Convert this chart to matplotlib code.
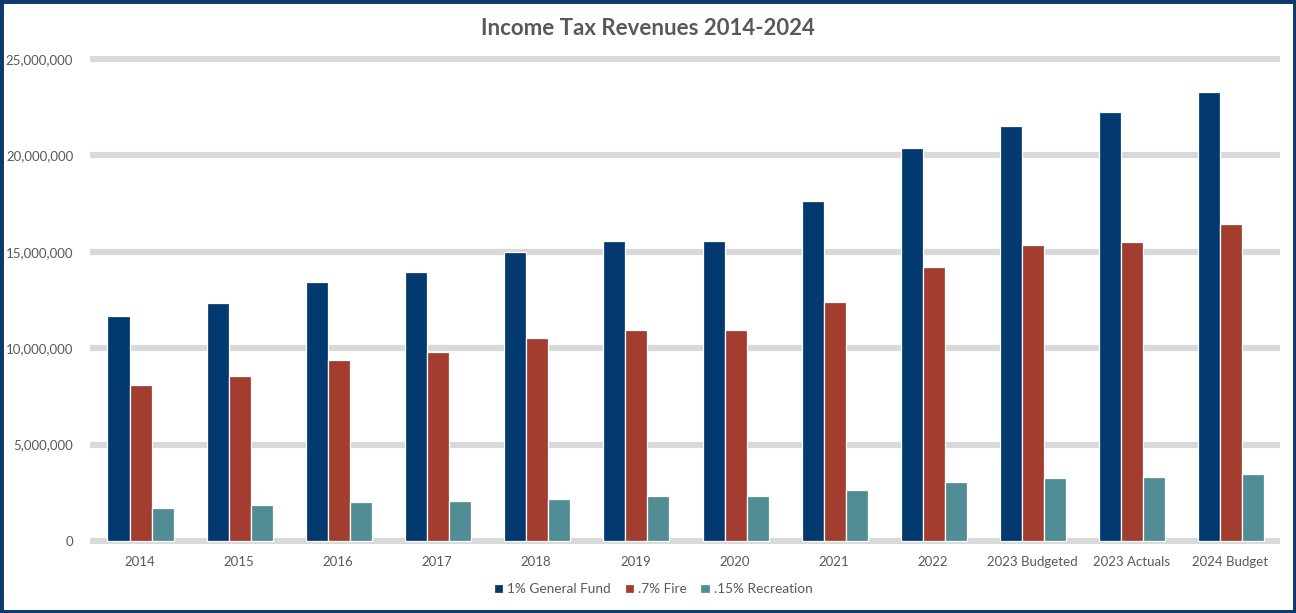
import matplotlib.pyplot as plt
import numpy as np
from matplotlib.patches import Rectangle
from matplotlib.ticker import FuncFormatter

plt.rcParams["font.family"] = ["Lato", "DejaVu Sans"]

categories = ["2014", "2015", "2016", "2017", "2018", "2019", "2020",
              "2021", "2022", "2023 Budgeted", "2023 Actuals", "2024 Budget"]
general_fund = [11.67e6, 12.34e6, 13.43e6, 13.95e6, 14.99e6, 15.56e6,
                15.56e6, 17.63e6, 20.37e6, 21.54e6, 22.25e6, 23.27e6]
fire = [8.09e6, 8.56e6, 9.39e6, 9.80e6, 10.53e6, 10.94e6,
        10.94e6, 12.40e6, 14.23e6, 15.35e6, 15.52e6, 16.43e6]
recreation = [1.73e6, 1.85e6, 2.02e6, 2.10e6, 2.20e6, 2.33e6,
              2.33e6, 2.65e6, 3.06e6, 3.27e6, 3.34e6, 3.46e6]

series = [
    ("1% General Fund", general_fund, "#023A70"),
    (".7% Fire", fire, "#A33D2F"),
    (".15% Recreation", recreation, "#518D94"),
]

TEXT = "#595959"

fig = plt.figure(figsize=(12.96, 6.13), dpi=100)
ax = fig.add_axes([0.0694, 0.1127, 0.9183, 0.7958])

x = np.arange(len(categories))
step = 0.222
for i, (label, vals, color) in enumerate(series):
    ax.bar(x + (i - 1) * step + 0.01, vals, width=step, color=color,
           edgecolor="white", linewidth=0.9, label=label, zorder=3)

ax.set_xlim(-0.5, len(categories) - 0.5)
ax.set_ylim(-0.15e6, 25.15e6)
ax.set_yticks(np.arange(0, 25e6 + 1, 5e6))
ax.yaxis.set_major_formatter(FuncFormatter(lambda v, _: f"{v:,.0f}"))
ax.set_xticks(x)
ax.set_xticklabels(categories)
ax.tick_params(length=0, labelsize=9.5, colors=TEXT)
ax.tick_params(axis="x", pad=9)
ax.tick_params(axis="y", pad=12)
for lbl in ax.get_xticklabels() + ax.get_yticklabels():
    lbl.set_color(TEXT)
for s in ax.spines.values():
    s.set_visible(False)
ax.yaxis.grid(True, color="#D9D9D9", linewidth=4.5, zorder=0)
ax.set_axisbelow(True)

fig.text(0.5, 0.953, "Income Tax Revenues 2014-2024", ha="center",
         va="center", fontsize=16, fontweight="bold", color=TEXT)

fig.legend(loc="center", bbox_to_anchor=(0.504, 0.039), ncol=3,
           frameon=False, fontsize=9.8, handlelength=0.7, handleheight=0.7,
           handletextpad=0.3, columnspacing=1.0, labelcolor=TEXT)

fig.patches.append(Rectangle((0.0, 0.0), 1.0, 1.0, transform=fig.transFigure,
                             fill=False, edgecolor="#0E3A6B", linewidth=5))

fig.savefig("out.png", dpi=100)
